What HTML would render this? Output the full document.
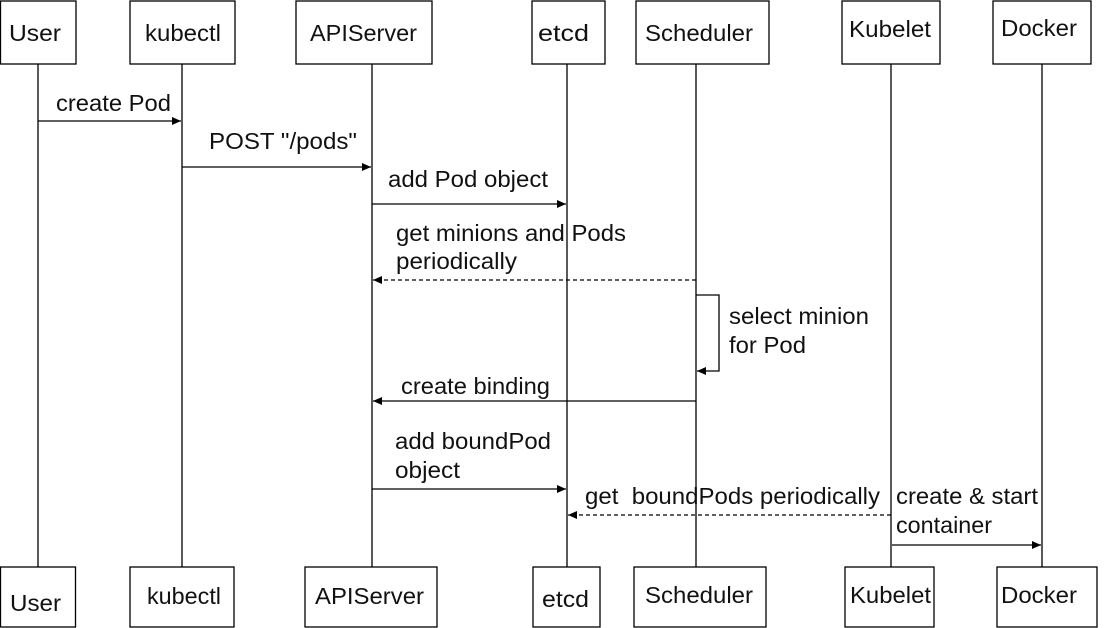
<!DOCTYPE html>
<html><head><meta charset="utf-8"><style>
html,body{margin:0;padding:0;background:#fff;}
svg{display:block;}
text{font-family:"Liberation Sans",sans-serif;font-size:23px;fill:#111;}
</style></head><body>
<svg width="1111" height="628" viewBox="0 0 1111 628" xmlns="http://www.w3.org/2000/svg">
<defs>
<marker id="a" markerWidth="10" markerHeight="8" refX="9" refY="4" orient="auto" markerUnits="userSpaceOnUse">
<path d="M0,0 L9,4 L0,8 z" fill="#000"/></marker>
</defs>
<g stroke="#000" stroke-width="1.3" fill="#fff">
<line x1="38" y1="64" x2="38" y2="567"/>
<line x1="182" y1="64" x2="182" y2="567"/>
<line x1="372" y1="64" x2="372" y2="567"/>
<line x1="567" y1="64" x2="567" y2="567"/>
<line x1="696" y1="64" x2="696" y2="567"/>
<line x1="891" y1="64" x2="891" y2="567"/>
<line x1="1042" y1="64" x2="1042" y2="567"/>
<rect x="0.5" y="1" width="75.5" height="63"/>
<rect x="130" y="1" width="105" height="63"/>
<rect x="296" y="1" width="136" height="63"/>
<rect x="532" y="1" width="73" height="63"/>
<rect x="636" y="1" width="133" height="63"/>
<rect x="842" y="1" width="98" height="63"/>
<rect x="993" y="1" width="98" height="63"/>
<rect x="0.5" y="567" width="75" height="60"/>
<rect x="130" y="567" width="104" height="60"/>
<rect x="305" y="567" width="132" height="60"/>
<rect x="533" y="567" width="67" height="60"/>
<rect x="634" y="567" width="132" height="60"/>
<rect x="845" y="567" width="89" height="60"/>
<rect x="997" y="567" width="100" height="60"/>
</g>
<g stroke="#000" stroke-width="1.3" fill="none">
<line x1="38" y1="121" x2="181" y2="121" marker-end="url(#a)"/>
<line x1="182" y1="167" x2="371" y2="167" marker-end="url(#a)"/>
<line x1="372" y1="204" x2="566" y2="204" marker-end="url(#a)"/>
<line x1="696" y1="280" x2="373" y2="280" stroke-dasharray="4,3" marker-end="url(#a)"/>
<polyline points="696,295 719,295 719,371 697,371" marker-end="url(#a)"/>
<line x1="696" y1="401" x2="373" y2="401" marker-end="url(#a)"/>
<line x1="372" y1="489" x2="566" y2="489" marker-end="url(#a)"/>
<line x1="891" y1="515" x2="568" y2="515" stroke-dasharray="4,3" marker-end="url(#a)"/>
<line x1="892" y1="545" x2="1041" y2="545" marker-end="url(#a)"/>
</g>
<g>
<text x="9" y="41" textLength="52" lengthAdjust="spacingAndGlyphs">User</text>
<text x="145" y="41" textLength="76" lengthAdjust="spacingAndGlyphs">kubectl</text>
<text x="310" y="41" textLength="107" lengthAdjust="spacingAndGlyphs">APIServer</text>
<text x="538" y="41" textLength="51" lengthAdjust="spacingAndGlyphs">etcd</text>
<text x="645" y="41" textLength="108" lengthAdjust="spacingAndGlyphs">Scheduler</text>
<text x="849" y="37" textLength="82" lengthAdjust="spacingAndGlyphs">Kubelet</text>
<text x="1001" y="36" textLength="76" lengthAdjust="spacingAndGlyphs">Docker</text>
<text x="10" y="611" textLength="51" lengthAdjust="spacingAndGlyphs">User</text>
<text x="147" y="604" textLength="74" lengthAdjust="spacingAndGlyphs">kubectl</text>
<text x="315" y="604" textLength="109" lengthAdjust="spacingAndGlyphs">APIServer</text>
<text x="542" y="607" textLength="47" lengthAdjust="spacingAndGlyphs">etcd</text>
<text x="645" y="603" textLength="108" lengthAdjust="spacingAndGlyphs">Scheduler</text>
<text x="850" y="603" textLength="81" lengthAdjust="spacingAndGlyphs">Kubelet</text>
<text x="1001" y="603" textLength="76" lengthAdjust="spacingAndGlyphs">Docker</text>
<text x="56" y="111" textLength="115" lengthAdjust="spacingAndGlyphs">create Pod</text>
<text x="209" y="149" textLength="148" lengthAdjust="spacingAndGlyphs">POST "/pods"</text>
<text x="388" y="187" textLength="160" lengthAdjust="spacingAndGlyphs">add Pod object</text>
<text x="396" y="241" textLength="230" lengthAdjust="spacingAndGlyphs">get minions and Pods</text>
<text x="396" y="269" textLength="121" lengthAdjust="spacingAndGlyphs">periodically</text>
<text x="729" y="324" textLength="140" lengthAdjust="spacingAndGlyphs">select minion</text>
<text x="729" y="353" textLength="77" lengthAdjust="spacingAndGlyphs">for Pod</text>
<text x="401" y="394" textLength="149" lengthAdjust="spacingAndGlyphs">create binding</text>
<text x="395" y="449" textLength="156" lengthAdjust="spacingAndGlyphs">add boundPod</text>
<text x="395" y="478" textLength="65" lengthAdjust="spacingAndGlyphs">object</text>
<text x="585" y="504" xml:space="preserve" textLength="295" lengthAdjust="spacingAndGlyphs">get  boundPods periodically</text>
<text x="896" y="504" textLength="142" lengthAdjust="spacingAndGlyphs">create &amp; start</text>
<text x="896" y="533" textLength="96" lengthAdjust="spacingAndGlyphs">container</text>
</g>
</svg>
</body></html>
